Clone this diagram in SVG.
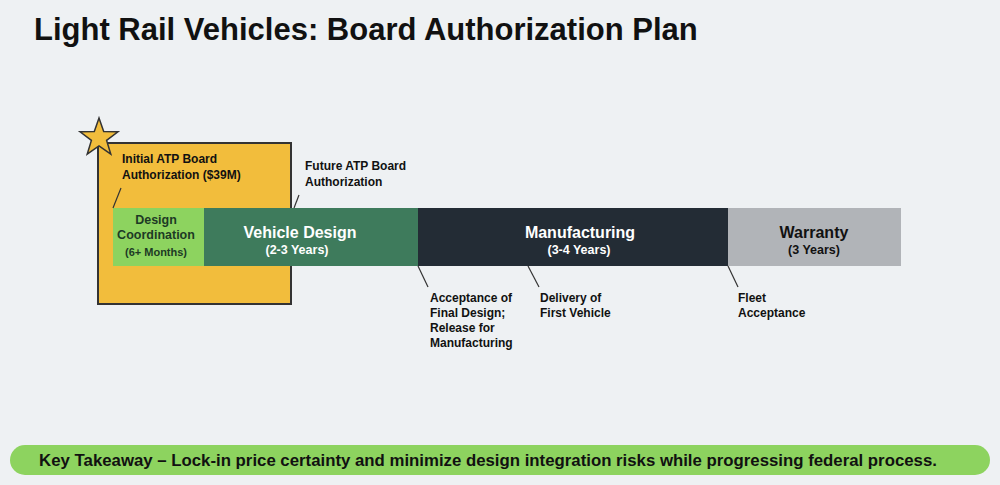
<svg xmlns="http://www.w3.org/2000/svg" width="1000" height="485" viewBox="0 0 1000 485">
<style>
text{font-family:"Liberation Sans",Arial,sans-serif;font-weight:bold}
.lbl{font-size:12px;fill:#111}
.ld{stroke:#333;stroke-width:1.2;fill:none}
</style>
<rect width="1000" height="485" fill="#eef1f3"/>
<text x="34" y="40" font-size="31" fill="#111">Light Rail Vehicles: Board Authorization Plan</text>
<g id="auth-box">
<rect x="98" y="143" width="193" height="161" fill="#f2bd3c" stroke="#333" stroke-width="2"/>
<text class="lbl" x="122" y="163">Initial ATP Board</text>
<text class="lbl" x="122" y="179">Authorization ($39M)</text>
</g>
<g id="star"><polygon points="99,118 103.7,131.5 118,131.8 106.6,140.4 110.8,154.2 99,146 87.2,154.2 91.4,140.4 80,131.8 94.3,131.5" fill="#f2bd3c" stroke="#333" stroke-width="1.5"/></g>
<g id="design-coord">
<rect x="113" y="208" width="91" height="58" fill="#8dd35f"/>
<text x="156" y="224" font-size="12.5" text-anchor="middle" fill="#1d3a25">Design</text>
<text x="156" y="239" font-size="12.5" text-anchor="middle" fill="#1d3a25">Coordination</text>
<text x="156" y="256" font-size="11" text-anchor="middle" fill="#1d3a25">(6+ Months)</text>
</g>
<g id="vehicle-design">
<rect x="204" y="208" width="214" height="58" fill="#3e7b5c"/>
<text x="300" y="238" font-size="16" text-anchor="middle" fill="#fff">Vehicle Design</text>
<text x="297" y="254" font-size="12.5" text-anchor="middle" fill="#fff">(2-3 Years)</text>
</g>
<g id="manufacturing">
<rect x="418" y="208" width="310" height="58" fill="#232c35"/>
<text x="580" y="238" font-size="16" text-anchor="middle" fill="#fff">Manufacturing</text>
<text x="579" y="254" font-size="12.5" text-anchor="middle" fill="#fff">(3-4 Years)</text>
</g>
<g id="warranty">
<rect x="728" y="208" width="173" height="58" fill="#b1b4b8"/>
<text x="814" y="238" font-size="16" text-anchor="middle" fill="#111">Warranty</text>
<text x="814" y="254" font-size="12.5" text-anchor="middle" fill="#111">(3 Years)</text>
</g>
<g id="connectors">
<line class="ld" x1="113" y1="208" x2="121" y2="188"/>
<line class="ld" x1="294" y1="208" x2="299" y2="195"/>
<line class="ld" x1="418" y1="266" x2="428" y2="287"/>
<line class="ld" x1="528" y1="266" x2="539" y2="287"/>
<line class="ld" x1="728" y1="266" x2="738" y2="287"/>
</g>
<g id="labels">
<text class="lbl" x="305" y="170">Future ATP Board</text>
<text class="lbl" x="305" y="186">Authorization</text>
<text class="lbl" x="430" y="302">Acceptance of</text>
<text class="lbl" x="430" y="317">Final Design;</text>
<text class="lbl" x="430" y="332">Release for</text>
<text class="lbl" x="430" y="347">Manufacturing</text>
<text class="lbl" x="540" y="302">Delivery of</text>
<text class="lbl" x="540" y="317">First Vehicle</text>
<text class="lbl" x="738" y="302">Fleet</text>
<text class="lbl" x="738" y="317">Acceptance</text>
</g>
<g id="takeaway">
<rect x="10" y="445" width="980" height="30" rx="15" fill="#8dd35f"/>
<text x="488" y="466" font-size="16.8" text-anchor="middle" fill="#111">Key Takeaway – Lock-in price certainty and minimize design integration risks while progressing federal process.</text>
</g>
</svg>
